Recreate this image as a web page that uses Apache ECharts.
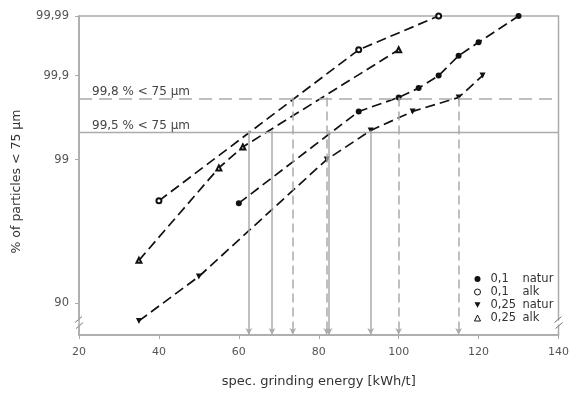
<!DOCTYPE html>
<html>
<head>
<meta charset="utf-8">
<script src="https://cdn.jsdelivr.net/npm/echarts@6/dist/echarts.min.js"></script>
<style>
html, body { margin: 0; padding: 0; background: #fff; }
#chart { width: 572px; height: 393px; }
</style>
</head>
<body>
<div id="chart"></div>
<script>
// values (x: kWh/t, y: % < 75 µm)
const natur01X = [60, 90, 100, 105, 110, 115, 120, 130];
const natur01Y = [97.6, 99.7, 99.8, 99.85, 99.9, 99.95, 99.97, 99.99];
const alk01X = [40, 90, 110];
const alk01Y = [97.7, 99.96, 99.99];
const natur025X = [35, 50, 82, 93, 103.5, 115, 121];
const natur025Y = [87.9, 92.7, 99.0, 99.5, 99.7, 99.8, 99.9];
const alk025X = [35, 55, 61, 100];
const alk025Y = [94.1, 98.8, 99.25, 99.96];

const arrowsAt995 = [62.5, 68.3, 82.6, 93];
const arrowsAt998 = [73.5, 82, 100, 115];
const limitLevels = [99.8, 99.5];
const limitLabels = ['99,8 % < 75 µm', '99,5 % < 75 µm'];

const yTickValues = [90, 99, 99.9, 99.99];
const yTickLabels = ['90', '99', '99,9', '99,99'];
const seriesNames = ['0,1 natur', '0,1 alk', '0,25 natur', '0,25 alk'];

// RRSB scale: log10(-ln(1 - p))
const rr = p => Math.log10(-Math.log(1 - p / 100));
const yMin = rr(86.1);
const yMax = rr(99.99);
const pairs = (xs, ys) => xs.map((x, i) => [x, rr(ys[i])]);

const grey = '#ababab';
const ink = '#111';
const font = 'DejaVu Sans, sans-serif';
const triDown = 'path://M0,0L10,0L5,9Z';

const lineStyle = { color: ink, width: 1.7, type: [10, 5] };

const arrowLines = [];
arrowsAt995.forEach(x => {
  arrowLines.push([
    { coord: [x, rr(99.5)], lineStyle: { color: grey, width: 1.5, type: 'solid' } },
    { coord: [x, yMin] }
  ]);
});
arrowsAt998.forEach(x => {
  arrowLines.push([
    { coord: [x, rr(99.8)], lineStyle: { color: grey, width: 1.5, type: [9, 5] } },
    { coord: [x, yMin] }
  ]);
});

const limitLines = limitLevels.map((p, i) => ({
  yAxis: rr(p),
  lineStyle: i === 0 ? { color: grey, width: 1.5, type: [13, 7] } : { color: grey, width: 1.3, type: 'solid' },
  label: { formatter: limitLabels[i] }
}));

const chart = echarts.init(document.getElementById('chart'));

chart.setOption({
  animation: false,
  textStyle: { fontFamily: font },
  grid: { left: 79, right: 11, top: 16, bottom: 58, show: true, borderColor: grey, borderWidth: 1.5 },
  xAxis: {
    type: 'value', min: 20, max: 140, interval: 20,
    name: 'spec. grinding energy [kWh/t]', nameLocation: 'middle', nameGap: 40,
    nameTextStyle: { fontSize: 13, color: '#333', fontFamily: font },
    axisLine: { lineStyle: { color: grey, width: 1.5 } },
    axisTick: { length: 4, lineStyle: { color: grey } },
    axisLabel: { fontSize: 11, color: '#555', margin: 12, fontFamily: font },
    splitLine: { show: false }
  },
  yAxis: {
    type: 'value', min: yMin, max: yMax,
    name: '% of particles < 75 µm', nameLocation: 'middle', nameGap: 56,
    nameTextStyle: { fontSize: 12.5, color: '#333', fontFamily: font, padding: [0, 12, 0, 0] },
    axisLine: { show: true, lineStyle: { color: grey, width: 1.5 } },
    axisTick: { show: true, length: 4, lineStyle: { color: grey }, customValues: yTickValues.map(rr) },
    axisLabel: {
      fontSize: 11.5, color: '#555', margin: 10, fontFamily: font,
      customValues: yTickValues.map(rr),
      formatter(v) {
        const i = yTickValues.findIndex(p => Math.abs(rr(p) - v) < 1e-6);
        return i >= 0 ? yTickLabels[i] : '';
      }
    },
    splitLine: { show: false }
  },
  legend: {
    orient: 'vertical', left: 469, top: 268,
    itemWidth: 6, itemHeight: 6, itemGap: 1,
    formatter(name) {
      const parts = name.split(' ');
      return '{a|' + parts[0] + '}{b|' + parts[1] + '}';
    },
    textStyle: {
      fontSize: 11.5, color: '#333', fontFamily: font,
      rich: {
        a: { width: 32, fontSize: 11.5, color: '#333', lineHeight: 13, padding: [0, 0, 0, 5], fontFamily: font },
        b: { fontSize: 11.5, color: '#333', lineHeight: 13, fontFamily: font }
      }
    },
    data: [
      { name: seriesNames[0], icon: 'circle', itemStyle: { color: ink } },
      { name: seriesNames[1], icon: 'circle', itemStyle: { color: '#fff', borderColor: ink, borderWidth: 1 } },
      { name: seriesNames[2], icon: triDown, itemStyle: { color: ink } },
      { name: seriesNames[3], icon: 'triangle', itemStyle: { color: '#fff', borderColor: ink, borderWidth: 1 } }
    ]
  },
  series: [
    {
      name: seriesNames[0], type: 'line', clip: false,
      data: pairs(natur01X, natur01Y),
      symbol: 'circle', symbolSize: 6,
      itemStyle: { color: ink }, lineStyle,
      markLine: {
        silent: true, symbol: ['none', 'arrow'], symbolSize: [5, 7],
        label: { show: false },
        data: arrowLines
      }
    },
    {
      name: seriesNames[1], type: 'line', clip: false,
      data: pairs(alk01X, alk01Y),
      symbol: 'emptyCircle', symbolSize: 5,
      itemStyle: { color: ink, borderWidth: 1.2 }, lineStyle,
      markLine: {
        silent: true, symbol: 'none',
        label: { position: 'insideStartTop', color: '#444', fontSize: 12, fontFamily: font, distance: [13, 1] },
        data: limitLines
      }
    },
    {
      name: seriesNames[2], type: 'line', clip: false,
      data: pairs(natur025X, natur025Y),
      symbol: triDown, symbolSize: 6,
      itemStyle: { color: ink }, lineStyle
    },
    {
      name: seriesNames[3], type: 'line', clip: false,
      data: pairs(alk025X, alk025Y),
      symbol: 'emptyTriangle', symbolSize: 5,
      itemStyle: { color: ink, borderWidth: 1.2 }, lineStyle
    }
  ]
});

// axis break marks on the left and right frame
const breakAt = rr(87.7);
const breaks = [20, 140].map(x => {
  const [px, py] = chart.convertToPixel({ gridIndex: 0 }, [x, breakAt]);
  return {
    type: 'group', x: px, y: py,
    children: [
      { type: 'rect', shape: { x: -4, y: -2, width: 8, height: 4 }, style: { fill: '#fff' } },
      { type: 'line', shape: { x1: -4, y1: 0, x2: 3, y2: -6 }, style: { stroke: '#777', lineWidth: 1 } },
      { type: 'line', shape: { x1: -3, y1: 6, x2: 4, y2: 0 }, style: { stroke: '#777', lineWidth: 1 } }
    ]
  };
});
chart.setOption({ graphic: breaks });
</script>
</body>
</html>
